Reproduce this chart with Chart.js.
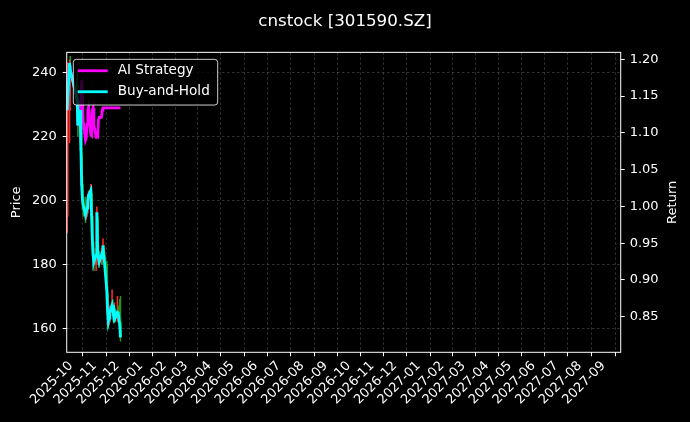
<!DOCTYPE html>
<html>
<head>
<meta charset="utf-8">
<script src="https://cdn.jsdelivr.net/npm/chart.js@4.4.1/dist/chart.umd.min.js"></script>
<style>
  html, body { margin: 0; padding: 0; background: #000; }
</style>
</head>
<body>
<canvas id="chart" width="690" height="422"></canvas>
<script>
const tradeDates = ["2025-09-26","2025-09-29","2025-09-30","2025-10-09","2025-10-10","2025-10-13","2025-10-14","2025-10-15","2025-10-16","2025-10-17",
  "2025-10-20","2025-10-21","2025-10-22","2025-10-23","2025-10-24","2025-10-27","2025-10-28","2025-10-29","2025-10-30","2025-10-31",
  "2025-11-03","2025-11-04","2025-11-05","2025-11-06","2025-11-07","2025-11-10","2025-11-11","2025-11-12","2025-11-13","2025-11-14",
  "2025-11-17","2025-11-18","2025-11-19","2025-11-20","2025-11-21","2025-11-24","2025-11-25","2025-11-26","2025-11-27","2025-11-28",
  "2025-12-01","2025-12-02","2025-12-03","2025-12-04","2025-12-05"];

const opens = [195,228,242,236,231,221,227,214,205,201, 199,195,196,197,200,202,202,195,187,183,
  180,184,194,184,182,181,183,182,185,183, 180,171,165,162,163,165,167,166,164,165, 163,165,165,165,162];
const highs = [243,244,245,240,233,231,229,216,207,203, 201,199,199,202,203,205,203,196,189,185,
  185,198,195,186,184,185,184,188,186,184, 181,173,167,165,167,172,169,167,168,166, 170,167,166,169,170];
const lows = [190,218,232,228,220,218,214,203,197,195, 193,194,195,196,198,200,194,186,180,178,
  178,183,183,180,179,180,180,181,181,179, 171,164,160,161,162,164,164,162,163,162, 162,163,163,160,156];
const closes = [228.2,242.9,240.7,231.3,223.5,228.2,215.7,204.8,200.1,198.5, 195.4,196.3,197.6,200.1,201.7,203.2,195.4,187.6,182.9,180.7,
  182.9,196.3,184.2,181.7,180.7,182.9,181.7,185.8,182.9,180.7, 172.0,165.7,162.0,163.2,165.1,167.3,165.7,163.8,165.1,163.2,
  165.1,164.8,164.8,161.0,157.3];

const aiStrategy = [1.131,1.195,1.185,1.145,1.110,1.131,1.145,1.172,1.151,1.117, 1.090,1.093,1.111,1.131,1.135,1.097,1.096,1.131,1.134,1.111,
  1.094,1.094,1.094,1.117,1.121,1.121,1.131,1.134,1.134,1.134, 1.134,1.134,1.134,1.134,1.134,1.134,1.134,1.134,1.134,1.134,
  1.134,1.134,1.134,1.134,1.134];
const buyAndHold = [1.131,1.195,1.185,1.145,1.110,1.131,1.077,1.029,1.009,1.002, 0.988,0.992,0.998,1.009,1.015,1.022,0.988,0.954,0.934,0.924,
  0.934,0.992,0.941,0.930,0.924,0.934,0.930,0.947,0.934,0.924, 0.886,0.859,0.843,0.848,0.856,0.866,0.859,0.851,0.856,0.848,
  0.856,0.855,0.855,0.839,0.822];

const monthTicks = ["2025-10","2025-11","2025-12","2026-01","2026-02","2026-03","2026-04","2026-05","2026-06","2026-07","2026-08","2026-09",
  "2026-10","2026-11","2026-12","2027-01","2027-02","2027-03","2027-04","2027-05","2027-06","2027-07","2027-08","2027-09"];
const priceTicks = [160, 180, 200, 220, 240];
const returnTicks = [0.85, 0.90, 0.95, 1.00, 1.05, 1.10, 1.15, 1.20];

const FONT = "DejaVu Sans";
const UP = "#ff2a2a";
const DOWN = "#2f8f1f";

// days since 2025-10-01, used as the x value
const base = Date.UTC(2025, 9, 1);
function dayOf(s) {
  const p = s.split("-").map(Number);
  return (Date.UTC(p[0], p[1] - 1, p[2] || 1) - base) / 864e5;
}

const xs = tradeDates.map(dayOf);
const candleColors = closes.map((c, i) => (c >= opens[i] ? UP : DOWN));

const wickData = xs.map((x, i) => ({ x: x, y: [lows[i], highs[i]] }));
const bodyData = xs.map((x, i) => ({ x: x, y: [opens[i], closes[i]] }));
const aiData = xs.map((x, i) => ({ x: x, y: aiStrategy[i] }));
const bhData = xs.map((x, i) => ({ x: x, y: buyAndHold[i] }));

const legendItems = [
  { label: "AI Strategy", color: "#ff00ff" },
  { label: "Buy-and-Hold", color: "#00ffff" },
];

const framePlugin = {
  id: "frame",
  afterDatasetsDraw(chart) {
    const ctx = chart.ctx;
    const a = chart.chartArea;
    ctx.save();
    ctx.strokeStyle = "#ffffff";
    ctx.lineWidth = 1;
    ctx.strokeRect(a.left, a.top, a.right - a.left, a.bottom - a.top);

    // legend box, upper left inside the plot
    const bx = a.left + 6.6, by = a.top + 7, bw = 144.4, bh = 45.7, r = 3;
    ctx.beginPath();
    ctx.roundRect(bx, by, bw, bh, r);
    ctx.fillStyle = "rgba(0,0,0,0.8)";
    ctx.fill();
    ctx.strokeStyle = "rgba(255,255,255,0.8)";
    ctx.stroke();
    ctx.font = "13.6px '" + FONT + "'";
    ctx.textBaseline = "middle";
    ctx.textAlign = "left";
    legendItems.forEach((it, i) => {
      const y = by + 11.4 + i * 21;
      ctx.strokeStyle = it.color;
      ctx.lineWidth = 2.8;
      ctx.beginPath();
      ctx.moveTo(bx + 4.4, y);
      ctx.lineTo(bx + 34.4, y);
      ctx.stroke();
      ctx.fillStyle = "#ffffff";
      ctx.fillText(it.label, bx + 44.4, y);
    });

    // right axis title, reading bottom to top
    ctx.translate(672.5, (a.top + a.bottom) / 2);
    ctx.rotate(-Math.PI / 2);
    ctx.textAlign = "center";
    ctx.font = "13px '" + FONT + "'";
    ctx.fillText("Return", 0, 0);
    ctx.restore();
  },
};

Chart.defaults.font.family = FONT;
Chart.defaults.font.size = 13;
Chart.defaults.color = "#ffffff";

const gridColor = "rgba(255,255,255,0.28)";

new Chart(document.getElementById("chart"), {
  type: "line",
  data: {
    datasets: [
      {
        type: "bar", label: "wick", data: wickData, yAxisID: "yPrice",
        backgroundColor: candleColors, barThickness: 0.9, grouped: false, order: 4,
      },
      {
        type: "bar", label: "body", data: bodyData, yAxisID: "yPrice",
        backgroundColor: candleColors, barThickness: 2, grouped: false, order: 3,
      },
      {
        label: "AI Strategy", data: aiData, yAxisID: "yRet",
        borderColor: "#ff00ff", borderWidth: 2.8, pointRadius: 0, tension: 0, order: 2,
      },
      {
        label: "Buy-and-Hold", data: bhData, yAxisID: "yRet",
        borderColor: "#00ffff", borderWidth: 2.8, pointRadius: 0, tension: 0, order: 1,
      },
    ],
  },
  options: {
    responsive: false,
    animation: false,
    layout: { padding: { left: 0, right: 0, top: 0, bottom: 0 } },
    plugins: {
      legend: { display: false },
      tooltip: { enabled: false },
      title: {
        display: true,
        text: "cnstock [301590.SZ]",
        color: "#ffffff",
        font: { family: FONT, size: 16.7, weight: "normal" },
        padding: { top: 12, bottom: 20.3 },
      },
    },
    scales: {
      x: {
        type: "linear",
        min: -5.7,
        max: 722.8,
        offset: false,
        afterBuildTicks(scale) {
          scale.ticks = monthTicks.map((m) => ({ value: dayOf(m) }));
        },
        afterFit(scale) { scale.height = 69.7; },
        ticks: {
          autoSkip: false,
          maxRotation: 45,
          minRotation: 45,
          padding: 2,
          color: "#ffffff",
          font: { size: 13 },
          callback: (v, i) => monthTicks[i],
        },
        grid: { color: gridColor, lineWidth: 0.7, tickLength: 4, tickColor: "#ffffff", tickWidth: 1 },
        border: { display: false, dash: [2.5, 2.5] },
      },
      yPrice: {
        type: "linear",
        position: "left",
        min: 152.5,
        max: 246.25,
        afterBuildTicks(scale) {
          scale.ticks = priceTicks.map((v) => ({ value: v }));
        },
        afterFit(scale) { scale.width = 66.7; },
        ticks: { padding: 6, color: "#ffffff", font: { size: 13 } },
        title: { display: true, text: "Price", color: "#ffffff", font: { size: 13 }, padding: { top: 8.9, bottom: 0 } },
        grid: { color: gridColor, lineWidth: 0.7, tickLength: 4, tickColor: "#ffffff", tickWidth: 1 },
        border: { display: false, dash: [2.5, 2.5] },
      },
      yRet: {
        type: "linear",
        position: "right",
        min: 0.8016,
        max: 1.2095,
        afterBuildTicks(scale) {
          scale.ticks = returnTicks.map((v) => ({ value: v }));
        },
        afterFit(scale) { scale.width = 69.3; },
        ticks: {
          padding: 5, color: "#ffffff", font: { size: 13 },
          callback: (v) => Number(v).toFixed(2),
        },
        grid: { drawOnChartArea: false, tickLength: 4, tickColor: "#ffffff", tickWidth: 1 },
        border: { display: false },
      },
    },
  },
  plugins: [framePlugin],
});
</script>
</body>
</html>
